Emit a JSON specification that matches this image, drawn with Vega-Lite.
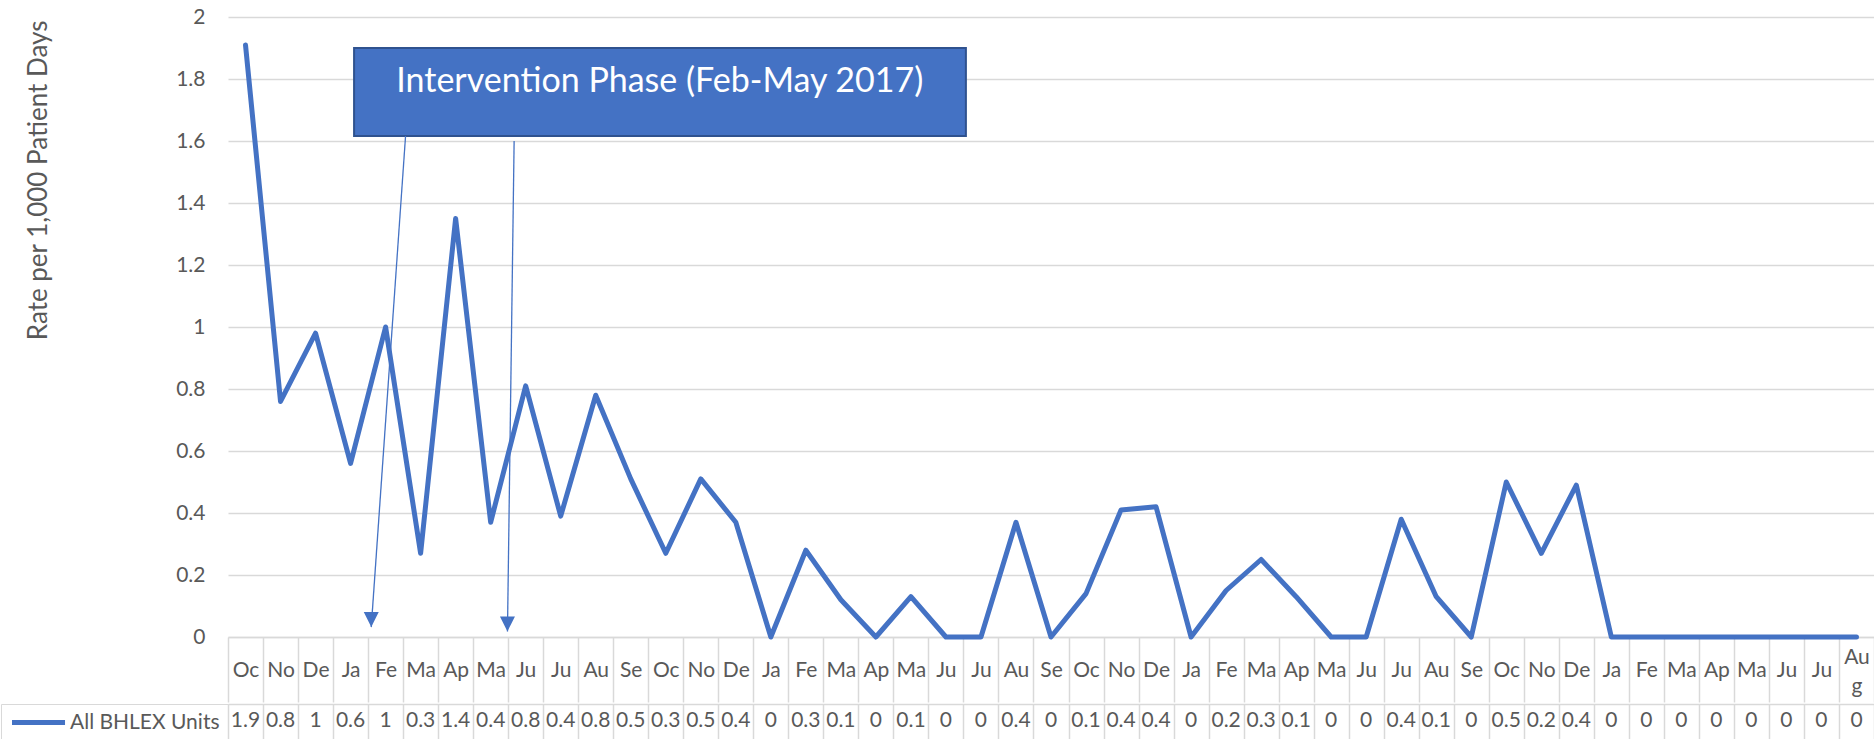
{
  "$schema": "https://vega.github.io/schema/vega-lite/v6.json",
  "background": "white",
  "padding": {"left": 0, "top": 6, "right": 0, "bottom": 0},
  "config": {
    "font": "Lato",
    "view": {"stroke": null}
  },
  "datasets": {
    "rates": [
      {"month": "2016-10", "rate": 1.91, "shown": "1.9"},
      {"month": "2016-11", "rate": 0.76, "shown": "0.8"},
      {"month": "2016-12", "rate": 0.98, "shown": "1"},
      {"month": "2017-01", "rate": 0.56, "shown": "0.6"},
      {"month": "2017-02", "rate": 1.0, "shown": "1"},
      {"month": "2017-03", "rate": 0.27, "shown": "0.3"},
      {"month": "2017-04", "rate": 1.35, "shown": "1.4"},
      {"month": "2017-05", "rate": 0.37, "shown": "0.4"},
      {"month": "2017-06", "rate": 0.81, "shown": "0.8"},
      {"month": "2017-07", "rate": 0.39, "shown": "0.4"},
      {"month": "2017-08", "rate": 0.78, "shown": "0.8"},
      {"month": "2017-09", "rate": 0.51, "shown": "0.5"},
      {"month": "2017-10", "rate": 0.27, "shown": "0.3"},
      {"month": "2017-11", "rate": 0.51, "shown": "0.5"},
      {"month": "2017-12", "rate": 0.37, "shown": "0.4"},
      {"month": "2018-01", "rate": 0, "shown": "0"},
      {"month": "2018-02", "rate": 0.28, "shown": "0.3"},
      {"month": "2018-03", "rate": 0.12, "shown": "0.1"},
      {"month": "2018-04", "rate": 0, "shown": "0"},
      {"month": "2018-05", "rate": 0.13, "shown": "0.1"},
      {"month": "2018-06", "rate": 0, "shown": "0"},
      {"month": "2018-07", "rate": 0, "shown": "0"},
      {"month": "2018-08", "rate": 0.37, "shown": "0.4"},
      {"month": "2018-09", "rate": 0, "shown": "0"},
      {"month": "2018-10", "rate": 0.14, "shown": "0.1"},
      {"month": "2018-11", "rate": 0.41, "shown": "0.4"},
      {"month": "2018-12", "rate": 0.42, "shown": "0.4"},
      {"month": "2019-01", "rate": 0, "shown": "0"},
      {"month": "2019-02", "rate": 0.15, "shown": "0.2"},
      {"month": "2019-03", "rate": 0.25, "shown": "0.3"},
      {"month": "2019-04", "rate": 0.13, "shown": "0.1"},
      {"month": "2019-05", "rate": 0, "shown": "0"},
      {"month": "2019-06", "rate": 0, "shown": "0"},
      {"month": "2019-07", "rate": 0.38, "shown": "0.4"},
      {"month": "2019-08", "rate": 0.13, "shown": "0.1"},
      {"month": "2019-09", "rate": 0, "shown": "0"},
      {"month": "2019-10", "rate": 0.5, "shown": "0.5"},
      {"month": "2019-11", "rate": 0.27, "shown": "0.2"},
      {"month": "2019-12", "rate": 0.49, "shown": "0.4"},
      {"month": "2020-01", "rate": 0, "shown": "0"},
      {"month": "2020-02", "rate": 0, "shown": "0"},
      {"month": "2020-03", "rate": 0, "shown": "0"},
      {"month": "2020-04", "rate": 0, "shown": "0"},
      {"month": "2020-05", "rate": 0, "shown": "0"},
      {"month": "2020-06", "rate": 0, "shown": "0"},
      {"month": "2020-07", "rate": 0, "shown": "0"},
      {"month": "2020-08", "rate": 0, "shown": "0"}
    ],
    "box": [
      {"start": 3.6, "end": 21.07, "low": 1.616, "high": 1.9, "cx": 12.33, "cy": 1.79, "label": "Intervention Phase (Feb-May 2017)"}
    ],
    "arrows": [
      {"x_from": 5.07, "y_from": 1.616, "x_to": 4.09, "y_to": 0.032},
      {"x_from": 8.17, "y_from": 1.6, "x_to": 7.98, "y_to": 0.018}
    ]
  },
  "spacing": 0,
  "resolve": {"scale": {"color": "independent"}, "legend": {"color": "independent"}},
  "vconcat": [
    {
      "width": 1646,
      "height": 620,
      "resolve": {"scale": {"x": "independent"}, "axis": {"x": "independent"}},
      "layer": [
        {
          "data": {"name": "rates"},
          "mark": {"type": "line", "color": "#4472C4", "strokeWidth": 5, "strokeCap": "round", "strokeJoin": "round"},
          "encoding": {
            "x": {
              "field": "month", "type": "nominal", "sort": null,
              "scale": {"paddingInner": 0, "paddingOuter": 0},
              "axis": {
                "orient": "bottom", "title": null, "grid": false,
                "domain": true, "domainColor": "#D9D9D9", "domainWidth": 1.5,
                "ticks": true, "tickBand": "extent", "tickSize": 65, "tickColor": "#D9D9D9", "tickWidth": 1.5,
                "labelExpr": "!isString(datum.value) ? '' : datum.value == '2020-08' ? ['Au', 'g'] : ['Ja','Fe','Ma','Ap','Ma','Ju','Ju','Au','Se','Oc','No','De'][toNumber(substring(datum.value, 5, 7)) - 1]",
                "labelAngle": 0, "labelAlign": "center", "labelBaseline": "middle",
                "labelPadding": {"condition": {"test": "datum.value == '2020-08'", "value": -45}, "value": -32},
                "labelFontSize": 21, "labelColor": "#595959", "labelOverlap": false, "labelFlush": false,
                "labelLineHeight": 29
              }
            },
            "y": {
              "field": "rate", "type": "quantitative", "title": "Rate per 1,000 Patient Days",
              "scale": {"domain": [0, 2], "nice": false, "zero": true},
              "axis": {
                "title": "Rate per 1,000 Patient Days", "titleFontSize": 26, "titleFontWeight": "normal",
                "titleColor": "#595959", "titleAnchor": "end", "titlePadding": 124, "titleY": 3,
                "values": [0, 0.2, 0.4, 0.6, 0.8, 1, 1.2, 1.4, 1.6, 1.8, 2],
                "format": ".1~f",
                "labelFontSize": 21, "labelColor": "#595959", "labelPadding": 23,
                "labelFlush": false, "labelOverlap": false,
                "ticks": false, "domain": false,
                "grid": true, "gridColor": "#D9D9D9", "gridWidth": 1.5
              }
            }
          }
        },
        {
          "layer": [
            {
              "data": {"name": "box"},
              "mark": {"type": "rect", "fill": "#4472C4", "stroke": "#2F528F", "strokeWidth": 2},
              "encoding": {
                "x": {"field": "start", "type": "quantitative", "scale": {"domain": [0, 47], "nice": false, "zero": false}, "axis": null},
                "x2": {"field": "end"},
                "y": {"field": "low", "type": "quantitative", "title": "Rate per 1,000 Patient Days"},
                "y2": {"field": "high"}
              }
            },
            {
              "data": {"name": "box"},
              "mark": {"type": "text", "color": "white", "fontSize": 34, "align": "center", "baseline": "middle"},
              "encoding": {
                "x": {"field": "cx", "type": "quantitative", "scale": {"domain": [0, 47], "nice": false, "zero": false}, "axis": null},
                "y": {"field": "cy", "type": "quantitative", "title": "Rate per 1,000 Patient Days"},
                "text": {"field": "label"}
              }
            },
            {
              "data": {"name": "arrows"},
              "mark": {"type": "rule", "color": "#4472C4", "strokeWidth": 1.3},
              "encoding": {
                "x": {"field": "x_from", "type": "quantitative", "scale": {"domain": [0, 47], "nice": false, "zero": false}, "axis": null},
                "y": {"field": "y_from", "type": "quantitative", "title": "Rate per 1,000 Patient Days"},
                "x2": {"field": "x_to"},
                "y2": {"field": "y_to"}
              }
            },
            {
              "data": {"name": "arrows"},
              "mark": {"type": "point", "shape": "M-1,-2L1,-2L0,0Z", "size": 225, "filled": true, "color": "#4472C4", "opacity": 1, "strokeWidth": 0},
              "encoding": {
                "x": {"field": "x_to", "type": "quantitative", "scale": {"domain": [0, 47], "nice": false, "zero": false}, "axis": null},
                "y": {"field": "y_to", "type": "quantitative", "title": "Rate per 1,000 Patient Days"}
              }
            }
          ]
        }
      ]
    },
    {
      "width": 1646,
      "height": 37,
      "layer": [
        {
          "data": {"name": "rates"},
          "mark": {"type": "text", "fontSize": 21, "color": "#595959", "baseline": "middle", "dy": -2},
          "encoding": {
            "x": {
              "field": "month", "type": "nominal", "sort": null,
              "scale": {"paddingInner": 0, "paddingOuter": 0},
              "axis": {"orient": "top", "title": null, "labels": false, "ticks": false, "domain": true, "domainColor": "#D9D9D9", "domainWidth": 1.5,
                       "grid": true, "tickBand": "extent", "gridColor": "#D9D9D9", "gridWidth": 1.5}
            },
            "text": {"field": "shown"}
          }
        },
        {
          "data": {"name": "rates"},
          "transform": [{"filter": "false"}],
          "mark": {"type": "line", "strokeWidth": 5},
          "encoding": {
            "x": {"field": "month", "type": "nominal", "sort": null},
            "color": {
              "datum": "All BHLEX Units",
              "scale": {"domain": ["All BHLEX Units"], "range": ["#4472C4"]},
              "legend": {
                "orient": "left", "offset": 0, "title": null,
                "symbolType": "M-1,0L6.07,0", "symbolSize": 225, "symbolStrokeWidth": 5,
                "labelFontSize": 21, "labelColor": "#595959", "labelLimit": 400, "labelOffset": 40,
                "padding": 8, "strokeColor": "#D9D9D9"
              }
            }
          }
        }
      ]
    }
  ]
}
